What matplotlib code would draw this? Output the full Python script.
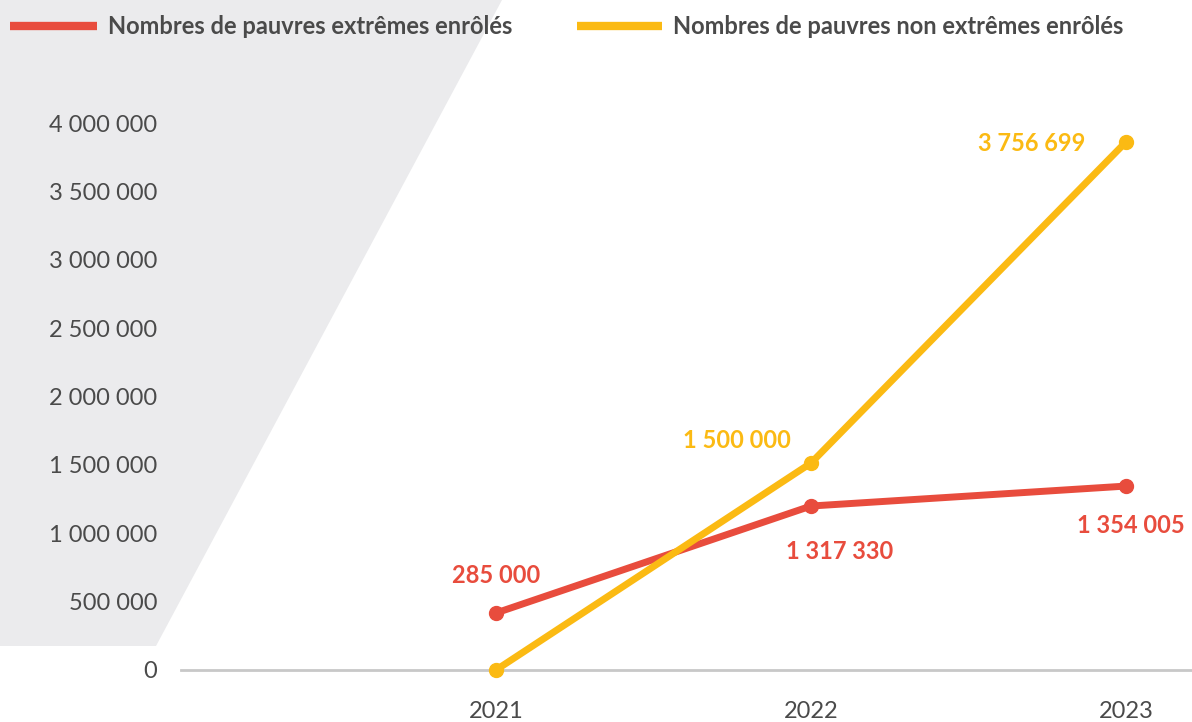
import matplotlib
matplotlib.use("Agg")
import matplotlib.pyplot as plt
from matplotlib.patches import Polygon
from matplotlib.lines import Line2D
from matplotlib.ticker import FuncFormatter

plt.rcParams['font.family'] = ['Lato', 'DejaVu Sans']

years = [2021, 2022, 2023]
extremes = [416800, 1199000, 1345000]
non_extremes = [0, 1513000, 3861000]
extremes_labels = ["285 000", "1 317 330", "1 354 005"]
non_extremes_labels = ["", "1 500 000", "3 756 699"]
series_names = ["Nombres de pauvres extrêmes enrôlés",
                "Nombres de pauvres non extrêmes enrôlés"]

RED = "#E84C3D"
YELLOW = "#FBBA13"
GREY_TXT = "#4a4a4a"
FS = 17

W, H = 1192, 722
fig = plt.figure(figsize=(W / 100, H / 100), dpi=100)

# grey slanted background shape (pixel coords -> figure fraction)
bg = [(0, 0), (502, 0), (156, 646), (0, 646)]
fig.patches.append(Polygon([(x / W, 1 - y / H) for x, y in bg],
                           closed=True, transform=fig.transFigure,
                           facecolor="#ebebed", edgecolor="none", zorder=-1))

ax = fig.add_axes([181 / W, 1 - 670 / H, 1 - 181 / W, (670 - 123) / H])
ax.patch.set_alpha(0)
ax.set_xlim(2020, 2023 + 66 / 314.5)
ax.set_ylim(0, 4000000)

ax.plot(years, extremes, "o-", color=RED, lw=5, ms=10, clip_on=False, zorder=3)
ax.plot(years, non_extremes, "o-", color=YELLOW, lw=5, ms=10, clip_on=False, zorder=4)

for s in ["top", "right", "left"]:
    ax.spines[s].set_visible(False)
ax.spines["bottom"].set_color("#c8c8c8")
ax.spines["bottom"].set_linewidth(2)

ax.set_xticks(years)
ax.set_yticks(range(0, 4000001, 500000))
ax.yaxis.set_major_formatter(FuncFormatter(lambda v, p: f"{int(v):,}".replace(",", " ")))
ax.tick_params(length=0, labelsize=FS, colors=GREY_TXT)
ax.tick_params(axis="y", pad=17)
ax.tick_params(axis="x", pad=22)

# data labels
lbl = dict(fontsize=FS, fontweight="bold", ha="center", va="center")
offs_red = [(0, 38), (29, -45), (5, -39)]
offs_yel = [(0, 0), (-74, 23), (-94, -1)]
for x, y, t, (dx, dy) in zip(years, extremes, extremes_labels, offs_red):
    ax.annotate(t, (x, y), xytext=(dx, dy), textcoords="offset pixels", color=RED, **lbl)
for x, y, t, (dx, dy) in zip(years, non_extremes, non_extremes_labels, offs_yel):
    if t:
        ax.annotate(t, (x, y), xytext=(dx, dy), textcoords="offset pixels", color=YELLOW, **lbl)

# legend drawn at the top
for (x0, x1, tx), col, name in zip([(10, 97, 108), (577, 662, 673)], [RED, YELLOW], series_names):
    fig.lines.append(Line2D([x0 / W, x1 / W], [1 - 26 / H] * 2, transform=fig.transFigure,
                            color=col, lw=6, solid_capstyle="butt"))
    fig.text(tx / W, 1 - 27 / H, name, fontsize=FS, fontweight="bold",
             color=GREY_TXT, ha="left", va="center")

fig.savefig("out.png", dpi=100)
